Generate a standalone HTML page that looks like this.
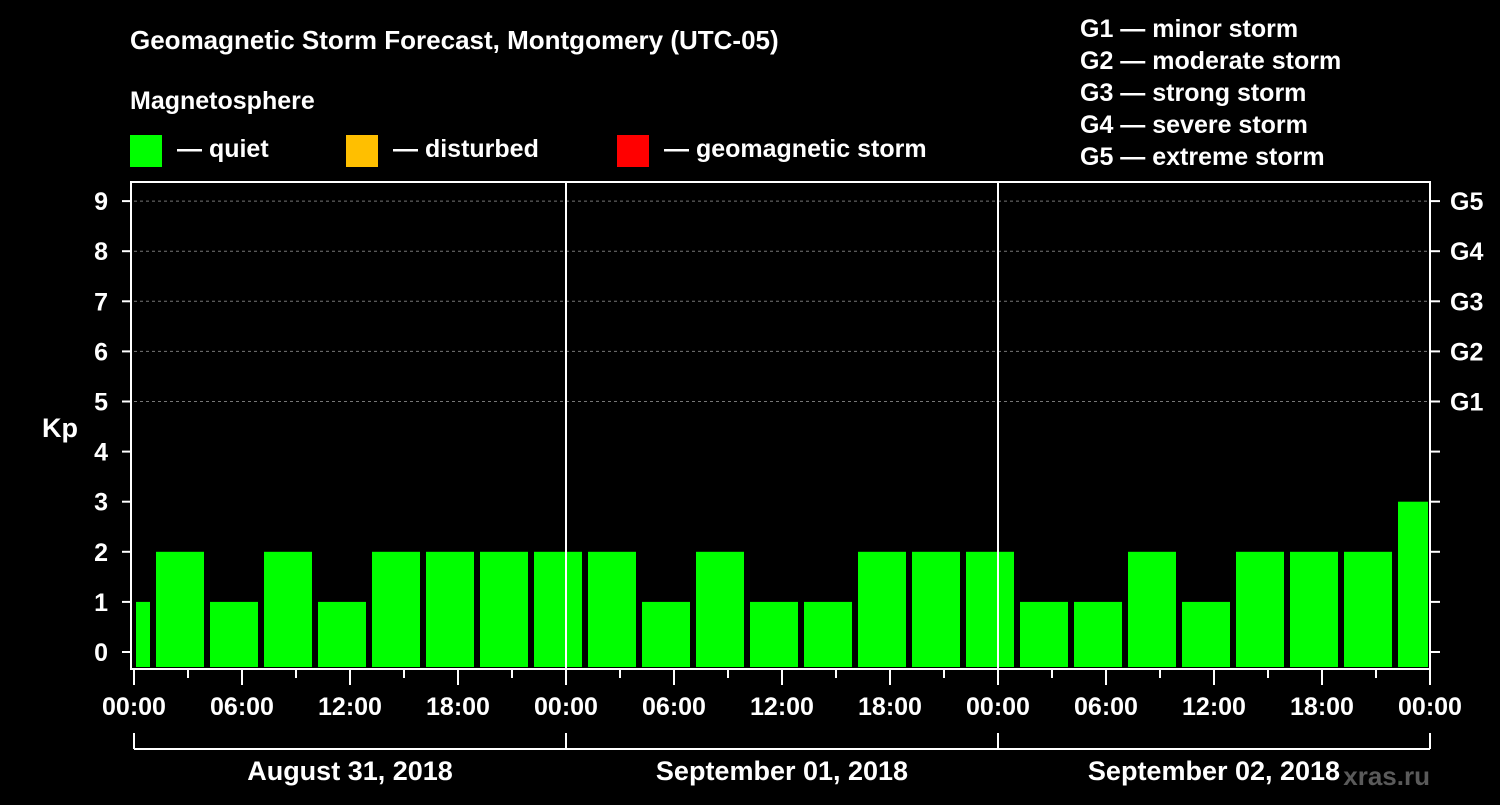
<!DOCTYPE html>
<html><head><meta charset="utf-8"><style>
body{margin:0;background:#000;width:1500px;height:800px;overflow:hidden;font-family:"Liberation Sans",sans-serif}
svg text{font-family:"Liberation Sans",sans-serif;font-weight:bold;fill:#fff}
</style></head><body>
<svg width="1500" height="800" id="c">
<text x="130" y="49" font-size="26">Geomagnetic Storm Forecast, Montgomery (UTC-05)</text>
<text x="130" y="109" font-size="25">Magnetosphere</text>
<g><rect x="130" y="135" width="32" height="32" fill="#00ff00"/><text x="177" y="157" font-size="25">— quiet</text></g>
<g><rect x="346" y="135" width="32" height="32" fill="#ffbf00"/><text x="393" y="157" font-size="25">— disturbed</text></g>
<g><rect x="617" y="135" width="32" height="32" fill="#ff0000"/><text x="664" y="157" font-size="25">— geomagnetic storm</text></g>
<g font-size="25">
<text x="1080" y="37">G1 — minor storm</text><text x="1080" y="69">G2 — moderate storm</text><text x="1080" y="101">G3 — strong storm</text><text x="1080" y="133">G4 — severe storm</text><text x="1080" y="165">G5 — extreme storm</text></g>
<text x="42" y="437" font-size="27">Kp</text>
<text x="1430" y="785" font-size="26" fill="#555" style="fill:#5a5a5a" text-anchor="end">xras.ru</text>
<g id="plot"></g>
</svg>
<script>
const kpValues=[1,2,1,2,1,2,2,2,2,2,1,2,1,1,2,2,2,1,1,2,1,2,2,2,3];
const yTicks=[0,1,2,3,4,5,6,7,8,9];
const gLabels=["G1","G2","G3","G4","G5"];
const xTickLabels=["00:00","06:00","12:00","18:00","00:00","06:00","12:00","18:00","00:00","06:00","12:00","18:00","00:00"];
const dateLabels=["August 31, 2018","September 01, 2018","September 02, 2018"];
const NS="http://www.w3.org/2000/svg",p=document.getElementById('plot');
const X0=134,X1=1430,TOP=182,BOT=669;
const xs=h=>X0+(X1-X0)*h/72;
const ys=v=>652-v*50.1;
function mk(t,a){const e=document.createElementNS(NS,t);for(const k in a)e.setAttribute(k,a[k]);p.appendChild(e);return e;}
yTicks.forEach(v=>{
 if(v>=5){const l=mk('line',{x1:X0,x2:X1,y1:ys(v),y2:ys(v),stroke:'#777','stroke-dasharray':'3,3'});
 
 }
 mk('line',{x1:122,x2:131,y1:ys(v),y2:ys(v),stroke:'#fff','stroke-width':2});
 mk('line',{x1:X1,x2:1440,y1:ys(v),y2:ys(v),stroke:'#fff','stroke-width':2});
 const t=mk('text',{x:108,y:ys(v)+9,'font-size':25,'text-anchor':'end'});t.textContent=v;
 
 
});
gLabels.forEach((g,i)=>{const t=mk('text',{x:1450,y:ys(5+i)+9,'font-size':25});t.textContent=g;
 
 });
kpValues.forEach((v,i)=>{
 const s=-2+3*i,a=Math.max(s,0),b=Math.min(s+3,72);
 const x1=xs(a)+(s<0?2:4),x2=xs(b)-(b==72?2:2);
 const r=mk('rect',{x:x1,y:ys(v),width:x2-x1,height:667-ys(v),fill:v>=5?'#ff0000':v>=4?'#ffbf00':'#00ff00'});
 
 
});
[1,2].forEach(d=>mk('line',{x1:xs(24*d),x2:xs(24*d),y1:TOP,y2:BOT,stroke:'#fff','stroke-width':2}));
mk('rect',{x:131,y:TOP,width:X1-131,height:BOT-TOP,fill:'none',stroke:'#fff','stroke-width':2});
for(let h=0;h<=72;h+=3){mk('line',{x1:xs(h),x2:xs(h),y1:BOT,y2:h%6==0?685:678,stroke:'#fff','stroke-width':2});}
xTickLabels.forEach((l,i)=>{const t=mk('text',{x:xs(i*6),y:715,'font-size':25,'text-anchor':'middle'});t.textContent=l;
 
 });
mk('line',{x1:X0,x2:X1,y1:749,y2:749,stroke:'#fff','stroke-width':2});
[0,1,2,3].forEach(d=>mk('line',{x1:xs(24*d),x2:xs(24*d),y1:733,y2:749,stroke:'#fff','stroke-width':2}));
dateLabels.forEach((l,i)=>{const t=mk('text',{x:xs(24*i+12),y:780,'font-size':27,'text-anchor':'middle'});t.textContent=l;
 
 });
</script>
</body></html>
